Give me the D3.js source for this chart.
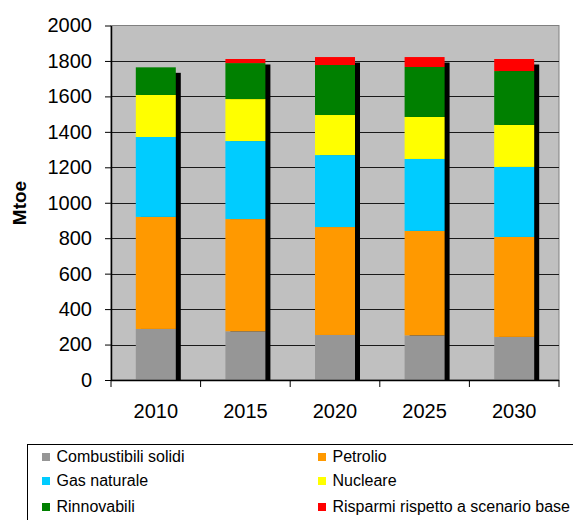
<!DOCTYPE html>
<html>
<head>
<meta charset="utf-8">
<script src="https://cdn.jsdelivr.net/npm/d3@7"></script>
<style>
  html, body { margin: 0; padding: 0; background: #fff; }
  svg { display: block; }
</style>
</head>
<body>
<script>
const years = ["2010", "2015", "2020", "2025", "2030"];
const seriesNames = ["Combustibili solidi", "Petrolio", "Gas naturale", "Nucleare", "Rinnovabili", "Risparmi rispetto a scenario base"];
const seriesColors = ["#969696", "#FF9900", "#00CCFF", "#FFFF00", "#008000", "#FF0000"];
const solidi      = [288, 275, 254, 252, 243];
const petrolio    = [632, 633, 609, 589, 564];
const gas         = [451, 440, 406, 406, 395];
const nucleare    = [237, 237, 226, 237, 237];
const rinnovabili = [156, 203, 282, 282, 304];
const risparmi    = [0, 23, 45, 56, 68];
const yTicks = [0, 200, 400, 600, 800, 1000, 1200, 1400, 1600, 1800, 2000];

(function () {
const W = 573, H = 520;
const pL = 111, pR = 559, pT = 25.5, pB = 380;
const FONT = "Liberation Sans, Arial, sans-serif";

const svg = d3.select("body").append("svg").attr("width", W).attr("height", H);

const x = d3.scaleBand().domain(years).range([pL, pR]).paddingInner(0.5536).paddingOuter(0.2768);
const y = d3.scaleLinear().domain([0, 2000]).range([pB, pT]);

const keys = seriesNames;
const table = years.map((yr, i) => ({
  year: yr,
  [keys[0]]: solidi[i], [keys[1]]: petrolio[i], [keys[2]]: gas[i],
  [keys[3]]: nucleare[i], [keys[4]]: rinnovabili[i], [keys[5]]: risparmi[i]
}));
const stacked = d3.stack().keys(keys)(table);
const color = d3.scaleOrdinal().domain(keys).range(seriesColors);

// plot background
svg.append("rect").attr("x", pL).attr("y", pT).attr("width", pR - pL).attr("height", pB - pT)
  .attr("fill", "#C0C0C0").attr("stroke", "#808080").attr("stroke-width", 1);

// gridlines
svg.append("g").selectAll("line").data(yTicks.filter(t => t > 0 && t < 2000)).join("line")
  .attr("x1", pL).attr("x2", pR)
  .attr("y1", d => Math.round(y(d)) + 0.5).attr("y2", d => Math.round(y(d)) + 0.5)
  .attr("stroke", "#1a1a1a").attr("stroke-width", 1);

// clip for shadows
svg.append("clipPath").attr("id", "plotclip").append("rect")
  .attr("x", pL).attr("y", pT).attr("width", pR - pL).attr("height", pB - pT);

// shadows
const totals = table.map(d => d3.sum(keys, k => d[k]));
svg.append("g").attr("clip-path", "url(#plotclip)").selectAll("rect").data(years).join("rect")
  .attr("x", d => x(d) + 5).attr("width", x.bandwidth())
  .attr("y", (d, i) => y(totals[i]) + 5.5).attr("height", (d, i) => pB - y(totals[i]))
  .attr("fill", "#000");

// bars
svg.append("g").selectAll("g").data(stacked).join("g")
  .attr("fill", d => color(d.key))
  .selectAll("rect").data(d => d).join("rect")
  .attr("x", d => x(d.data.year)).attr("width", x.bandwidth())
  .attr("y", d => y(d[1])).attr("height", d => Math.max(0, y(d[0]) - y(d[1])));

// y axis
const yAxis = d3.axisLeft(y).tickValues(yTicks).tickFormat(d3.format("d"))
  .tickSize(6).tickPadding(13).tickSizeOuter(0);
const gy = svg.append("g").attr("transform", `translate(${pL},0)`).call(yAxis);
gy.select(".domain").attr("stroke", "#000").attr("stroke-width", 1.5);
gy.selectAll(".tick line").attr("stroke", "#000");
gy.selectAll(".tick text").attr("font-family", FONT).attr("font-size", 20).attr("fill", "#000");

// x axis
const xAxis = d3.axisBottom(x).tickSize(0).tickPadding(24);
const gx = svg.append("g").attr("transform", `translate(0,${pB})`).call(xAxis);
gx.select(".domain").remove();
gx.selectAll(".tick text").attr("font-family", FONT).attr("font-size", 20).attr("fill", "#000");
svg.append("line").attr("x1", pL).attr("x2", pR).attr("y1", pB + 0.5).attr("y2", pB + 0.5)
  .attr("stroke", "#000").attr("stroke-width", 1.5);
// boundary ticks
const boundaryPos = [pL].concat(years.map(d => x(d) + x.bandwidth() / 2 + x.step() / 2));
svg.append("g").selectAll("line").data(boundaryPos).join("line")
  .attr("x1", d => d).attr("x2", d => d).attr("y1", pB).attr("y2", pB + 7)
  .attr("stroke", "#000").attr("stroke-width", 1);

// y title
svg.append("text").attr("transform", "translate(26,203) rotate(-90)")
  .attr("text-anchor", "middle").attr("font-family", FONT)
  .attr("font-weight", "bold").attr("font-size", 19).text("Mtoe");

// legend
svg.append("rect").attr("x", 27.5).attr("y", 444.5).attr("width", 600).attr("height", 100)
  .attr("fill", "#fff").attr("stroke", "#000").attr("stroke-width", 1);
const legPos = [[42, 457], [318, 457], [42, 481], [318, 481], [42, 507], [318, 507]];
const leg = svg.append("g").selectAll("g").data(keys).join("g")
  .attr("transform", (d, i) => `translate(${legPos[i][0]},${legPos[i][1]})`);
leg.append("rect").attr("x", 0).attr("y", -4).attr("width", 8).attr("height", 8).attr("fill", d => color(d));
leg.append("text").attr("x", 14.5).attr("y", -1).attr("dy", "0.35em")
  .attr("font-family", FONT).attr("font-size", 16).text(d => d);
})();
</script>
</body>
</html>
